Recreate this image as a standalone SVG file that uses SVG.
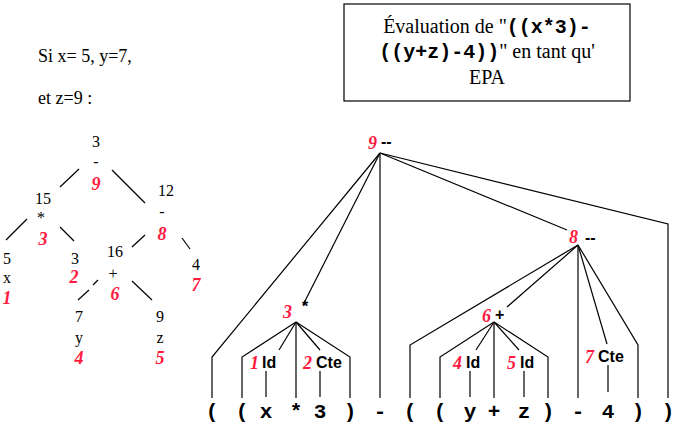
<svg xmlns="http://www.w3.org/2000/svg" width="678" height="427" viewBox="0 0 678 427" xml:space="preserve">
<style>
.s{font-family:"Liberation Serif",serif;font-size:16px;fill:#000}
.r{font-family:"Liberation Serif",serif;font-size:18px;font-style:italic;font-weight:bold;fill:#ff1a40}
.h{font-family:"Liberation Sans",sans-serif;font-size:16px;font-weight:bold;fill:#000}
.m{font-family:"Liberation Mono",monospace;font-size:21px;font-weight:bold;fill:#000}
.t{font-family:"Liberation Serif",serif;font-size:20px;fill:#000}
.tm{font-family:"Liberation Mono",monospace;font-size:20px;font-weight:bold}
line,polyline{stroke:#000;stroke-width:1.2;fill:none}
</style>
<rect width="678" height="427" fill="#fff"/>
<g id="intro">
<text font-family="Liberation Serif, serif" font-size="18" x="38" y="62">Si x= 5, y=7,</text>
<text font-family="Liberation Serif, serif" font-size="18" x="38" y="104">et  z=9 :</text>
</g>
<g id="title" font-family="Liberation Serif, serif" font-size="20">
<rect x="344" y="4" width="286" height="97" fill="#fff" stroke="#000" stroke-width="1.2"/>
<text x="487" y="33" text-anchor="middle">Évaluation de  "<tspan class="tm">((x*3)-</tspan></text>
<text x="487" y="58" text-anchor="middle"><tspan class="tm">((y+z)-4))</tspan>" en tant  qu'</text>
<text x="487" y="84" text-anchor="middle">EPA</text>
</g>
<g id="left-tree" text-anchor="middle">
<text class="s" x="96" y="147">3</text><text class="s" x="96" y="167">-</text><text class="r" x="96" y="190">9</text>
<text class="s" x="43" y="204">15</text><text class="s" x="41" y="223">*</text><text class="r" x="43" y="245">3</text>
<text class="s" x="166" y="196">12</text><text class="s" x="162" y="217">-</text><text class="r" x="162" y="240">8</text>
<text class="s" x="7" y="264">5</text><text class="s" x="7" y="283">x</text><text class="r" x="7" y="304">1</text>
<text class="s" x="75" y="264">3</text><text class="r" x="74" y="283">2</text>
<text class="s" x="115" y="257">16</text><text class="s" x="113" y="279">+</text><text class="r" x="115" y="300">6</text>
<text class="s" x="196" y="270">4</text><text class="r" x="196" y="291">7</text>
<text class="s" x="79" y="322">7</text><text class="s" x="79" y="343">y</text><text class="r" x="79" y="364">4</text>
<text class="s" x="160" y="322">9</text><text class="s" x="160" y="343">z</text><text class="r" x="160" y="364">5</text>
</g>
<g id="left-edges">
<line x1="79" y1="169" x2="60" y2="187"/><line x1="112" y1="170" x2="145" y2="203"/>
<line x1="27" y1="219" x2="6" y2="240"/><line x1="60" y1="227" x2="74" y2="241"/>
<line x1="145" y1="235" x2="132" y2="247"/><line x1="182" y1="238" x2="190" y2="249"/>
<line x1="98" y1="280" x2="93" y2="285"/><line x1="89" y1="290" x2="78" y2="300"/>
<line x1="132" y1="281" x2="152" y2="300"/>
</g>
<g id="node9"><text class="r" x="377" y="149" text-anchor="end">9</text><text class="h" x="381" y="147">--</text></g>
<g id="node8"><text class="r" x="578" y="243" text-anchor="end">8</text><text class="h" x="585" y="243">--</text></g>
<g id="node3"><text class="r" x="292" y="318" text-anchor="end">3</text><text class="h" x="302" y="312" font-size="14">*</text></g>
<g id="node6"><text class="r" x="491" y="322" text-anchor="end">6</text><text class="h" x="495" y="320">+</text></g>
<g id="leaves">
<text class="r" x="259" y="369" text-anchor="end">1</text><text class="h" x="262" y="368">Id</text>
<text class="r" x="312" y="369" text-anchor="end">2</text><text class="h" x="316" y="368">Cte</text>
<text class="r" x="462" y="369" text-anchor="end">4</text><text class="h" x="466" y="368">Id</text>
<text class="r" x="516" y="369" text-anchor="end">5</text><text class="h" x="520" y="368">Id</text>
<text class="r" x="594" y="363" text-anchor="end">7</text><text class="h" x="598" y="362">Cte</text>
</g>
<g id="expr" class="m" text-anchor="middle">
<text x="212" y="418">(</text><text x="242" y="418">(</text><text x="266" y="418">x</text><text x="296" y="418">*</text><text x="320" y="418">3</text><text x="350" y="418">)</text><text x="380" y="418">-</text><text x="410" y="418">(</text><text x="440" y="418">(</text><text x="470" y="418">y</text><text x="494" y="418">+</text><text x="524" y="418">z</text><text x="548" y="418">)</text><text x="578" y="418">-</text><text x="608" y="418">4</text><text x="638" y="418">)</text><text x="668" y="418">)</text>
</g>
<g id="connectors">
<polyline points="380,153 212,357 212,398"/>
<line x1="380" y1="153" x2="303" y2="305"/>
<line x1="380" y1="153" x2="380" y2="398"/>
<line x1="380" y1="153" x2="567" y2="230"/>
<polyline points="380,153 668,224 668,398"/>
<polyline points="578,245 410,345 410,398"/>
<line x1="578" y1="245" x2="507" y2="307"/>
<line x1="578" y1="245" x2="578" y2="398"/>
<line x1="578" y1="245" x2="607" y2="344"/>
<polyline points="578,245 638,345 638,398"/>
<polyline points="296,322 242,357 242,398"/>
<line x1="296" y1="322" x2="279" y2="350"/>
<line x1="296" y1="322" x2="296" y2="398"/>
<line x1="296" y1="322" x2="320" y2="350"/>
<polyline points="296,322 350,357 350,398"/>
<line x1="266" y1="371" x2="266" y2="397"/>
<line x1="320" y1="371" x2="320" y2="397"/>
<polyline points="494,322 440,357 440,398"/>
<line x1="494" y1="322" x2="476" y2="350"/>
<line x1="494" y1="322" x2="494" y2="398"/>
<line x1="494" y1="322" x2="519" y2="350"/>
<polyline points="494,322 548,357 548,398"/>
<line x1="470" y1="371" x2="470" y2="397"/>
<line x1="524" y1="371" x2="524" y2="397"/>
<line x1="608" y1="365" x2="608" y2="392"/>
</g>
</svg>
